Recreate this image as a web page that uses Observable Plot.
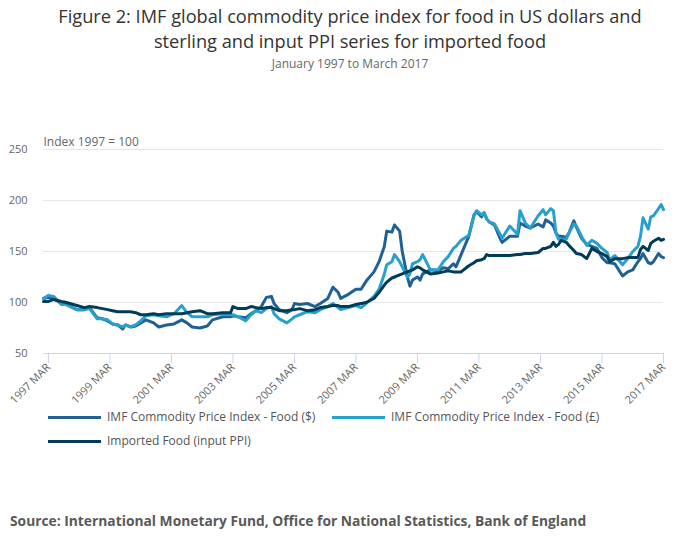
<!DOCTYPE html>
<html>
<head>
<meta charset="utf-8">
<script src="https://cdn.jsdelivr.net/npm/d3@7"></script>
<script src="https://cdn.jsdelivr.net/npm/@observablehq/plot@0.6"></script>
<style>
  html, body { margin:0; padding:0; background:#fff; }
  body { width:700px; height:549px; position:relative; font-family:"Open Sans", sans-serif; overflow:hidden; }
  #title { position:absolute; top:4px; left:0; width:700px; text-align:center; font-size:18.2px; line-height:24.9px; color:#333; }
  #subtitle { position:absolute; top:56px; left:0; width:700px; text-align:center; font-size:12px; line-height:16px; color:#666; }
  #chart { position:absolute; top:80px; left:0; }
  .leg { position:absolute; font-size:12px; line-height:16px; color:#555; white-space:nowrap; }
  .sw { position:absolute; height:3px; width:53px; }
  #source { position:absolute; top:512px; left:10px; font-size:13.8px; line-height:18px; font-weight:bold; color:#595959; }
</style>
</head>
<body>
<div id="title">Figure 2: IMF global commodity price index for food in US dollars and<br>sterling and input PPI series for imported food</div>
<div id="subtitle">January 1997 to March 2017</div>
<div id="chart"></div>
<div id="legend"></div>
<div id="source">Source: International Monetary Fund, Office for National Statistics, Bank of England</div>
<script>
const seriesNames = [
  "IMF Commodity Price Index - Food ($)",
  "IMF Commodity Price Index - Food (£)",
  "Imported Food (input PPI)"
];
const seriesColors = ["#206095", "#27a0cc", "#003c57"];
const yTicks = [50, 100, 150, 200, 250];
const xTickLabels = ["1997 MAR","1999 MAR","2001 MAR","2003 MAR","2005 MAR","2007 MAR","2009 MAR","2011 MAR","2013 MAR","2015 MAR","2017 MAR"];
const yLabel = "Index 1997 = 100";

const months = [
  "1997-01","1997-03","1997-05","1997-08","1997-10","1998-02","1998-05","1998-07","1998-10","1998-12",
  "1999-02","1999-04","1999-06","1999-08","1999-09","1999-11","2000-01","2000-03","2000-05","2000-08",
  "2000-10","2001-01","2001-04","2001-07","2001-09","2001-11","2002-02","2002-05","2002-07","2002-11",
  "2003-02","2003-03","2003-05","2003-08","2003-10","2003-12","2004-02","2004-04","2004-06","2004-07",
  "2004-09","2004-12","2005-02","2005-03","2005-05","2005-08","2005-11","2006-01","2006-04","2006-06",
  "2006-08","2006-09","2006-12","2007-03","2007-05","2007-07","2007-10","2007-12","2008-02","2008-03",
  "2008-05","2008-06","2008-08","2008-09","2008-11","2008-12","2009-01","2009-03","2009-04","2009-05",
  "2009-08","2009-11","2010-01","2010-03","2010-05","2010-06","2010-08","2010-11","2011-01","2011-02",
  "2011-04","2011-05","2011-06","2011-07","2011-09","2011-11","2011-12","2012-03","2012-06","2012-07",
  "2012-09","2012-11","2013-02","2013-04","2013-05","2013-07","2013-08","2013-09","2013-10","2013-11",
  "2014-01","2014-02","2014-04","2014-05","2014-07","2014-09","2014-11","2015-01","2015-03","2015-05",
  "2015-06","2015-08","2015-10","2015-11","2016-01","2016-03","2016-05","2016-06","2016-07","2016-09",
  "2016-10","2016-11","2017-01","2017-02","2017-03"
];
const usd = [
  104,105,104,99,98,93,93,95,85,84,
  82,79,78,74,78,76,77,80,83,80,
  76,78,79,83,80,76,75,77,83,86,
  86,87,86,85,89,92,96,105,106,99,
  93,90,93,99,98,99,96,99,104,115,
  110,104,108,113,113,121,130,140,155,170,
  169,176,170,150,125,116,122,125,122,128,
  132,131,134,133,138,135,147,165,186,189,
  184,188,182,179,176,164,159,165,165,178,
  175,173,177,174,181,178,175,168,165,165,
  164,168,180,174,163,157,155,153,144,139,
  139,138,130,126,130,132,140,143,148,139,
  138,140,148,145,144
];
const gbp = [
  104,107,106,98,98,93,93,94,84,84,
  83,79,78,76,78,76,78,82,87,88,
  87,86,89,97,90,86,86,86,88,89,
  88,88,86,82,88,92,90,94,96,89,
  84,80,84,86,88,91,90,93,96,99,
  95,93,95,97,95,99,106,113,128,137,
  140,147,140,135,125,128,138,140,142,147,
  132,132,140,145,153,155,161,166,185,190,
  186,188,182,179,177,168,163,175,167,190,
  178,173,185,191,186,192,190,168,162,162,
  162,168,177,175,165,156,161,158,153,149,
  142,146,140,137,143,150,155,165,183,172,
  184,185,192,196,191
];
const ppi = [
  101,101,103,101,100,97,95,96,95,94,
  93,92,91,91,91,91,90,88,88,89,
  88,89,89,89,90,91,92,89,89,90,
  90,96,94,94,96,95,94,95,95,94,
  92,92,93,93,94,92,93,95,96,97,
  97,96,96,98,99,100,104,110,117,120,
  124,125,127,128,130,131,132,135,134,132,
  128,129,130,131,130,130,130,136,139,141,
  142,143,147,146,146,146,146,146,147,147,
  148,148,149,153,153,155,159,155,157,161,
  159,156,151,148,147,143,153,150,148,145,
  140,143,143,143,144,144,144,152,155,151,
  158,160,163,161,162
];

const parse = d3.utcParse("%Y-%m");
const seriesValues = [usd, gbp, ppi];
const data = seriesNames.flatMap((name, i) =>
  months.map((m, j) => ({date: parse(m), value: seriesValues[i][j], series: name}))
);
const xTicks = xTickLabels.map(s => parse(s.slice(0,4) + "-03"));
const labelOf = new Map(xTicks.map((d, i) => [+d, xTickLabels[i]]));

const chart = Plot.plot({
  width: 700,
  height: 320,
  marginLeft: 43,
  marginRight: 37,
  marginTop: 69,
  marginBottom: 47,
  style: {fontFamily: "'Open Sans', sans-serif", fontSize: "11px", color: "#666", background: "#fff", overflow: "visible"},
  x: {type: "utc", domain: [parse(months[0]), parse(months[months.length - 1])], label: null},
  y: {domain: [50, 250], label: null},
  color: {domain: seriesNames, range: seriesColors},
  marks: [
    Plot.ruleY(yTicks.filter(v => v > 50), {stroke: "#e6e6e6", strokeWidth: 1}),
    Plot.ruleY([50], {stroke: "#ccd6eb", strokeWidth: 1}),
    Plot.axisY({ticks: yTicks, tickSize: 0, tickPadding: 16, fill: "#666", fontSize: 11, label: null}),
    Plot.axisX({ticks: xTicks, tickFormat: d => labelOf.get(+d), tickRotate: -45, tickSize: 10, tickPadding: 2, stroke: "#ccd6eb", fill: "#666", fontSize: 11, label: null}),
    Plot.lineY(data, {x: "date", y: "value", z: "series", stroke: "series", strokeWidth: 3, curve: "linear"}),
    Plot.text([yLabel], {frameAnchor: "top-left", dy: -12, textAnchor: "start", fill: "#666", fontSize: 12})
  ]
});
document.getElementById("chart").appendChild(chart);

const legendPos = [[48, 409], [332, 409], [48, 433]];
const legend = document.getElementById("legend");
seriesNames.forEach((name, i) => {
  const [lx, ly] = legendPos[i];
  const sw = document.createElement("div");
  sw.className = "sw";
  sw.style.left = lx + "px";
  sw.style.top = (ly + 7) + "px";
  sw.style.background = seriesColors[i];
  legend.appendChild(sw);
  const t = document.createElement("div");
  t.className = "leg";
  t.style.left = (lx + 59) + "px";
  t.style.top = ly + "px";
  t.textContent = name;
  legend.appendChild(t);
});
</script>
</body>
</html>
